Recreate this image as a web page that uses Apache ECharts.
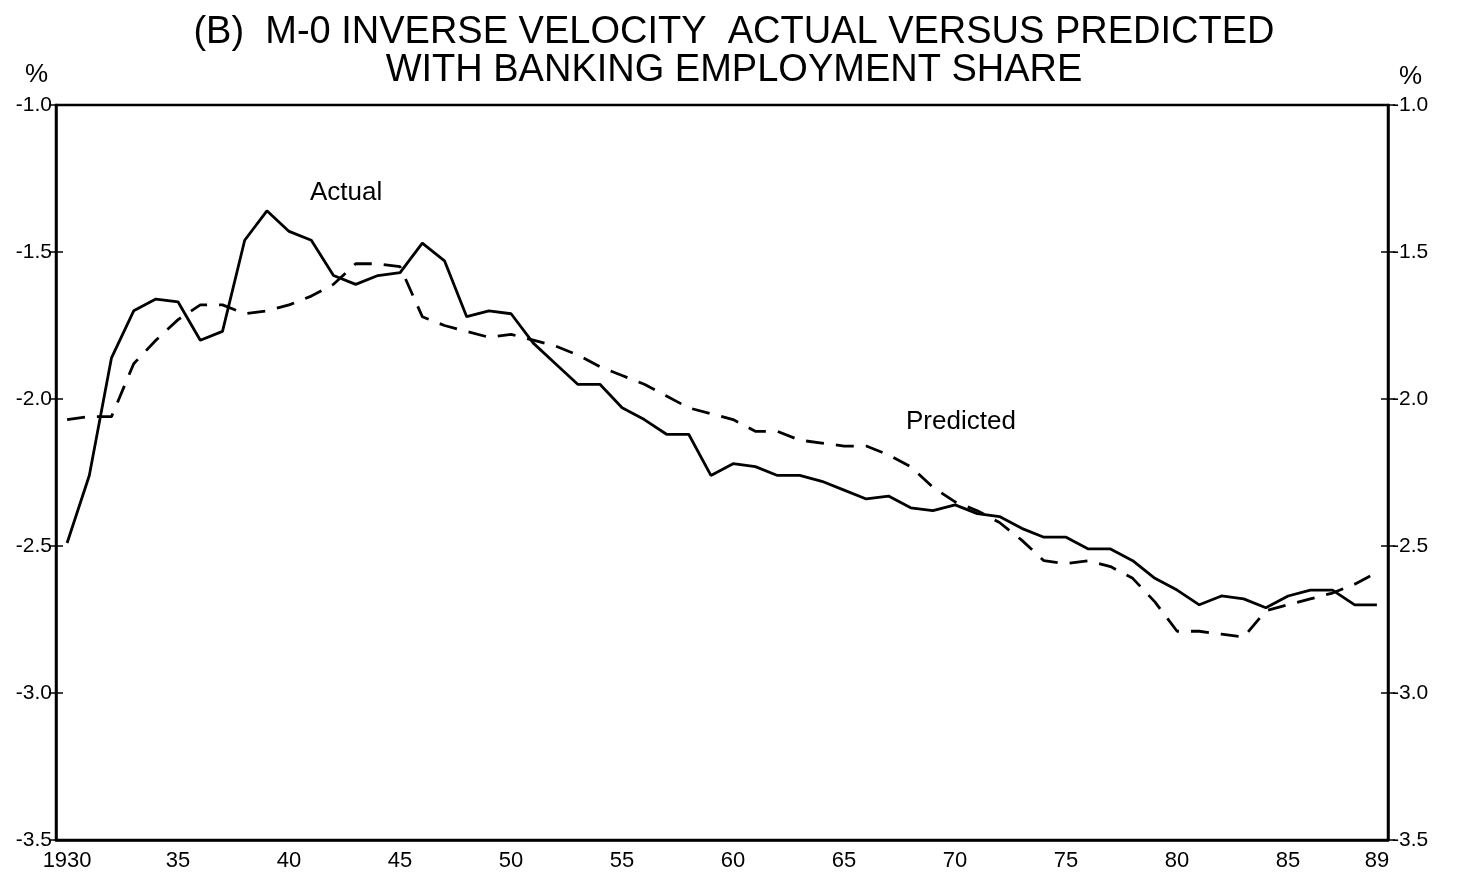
<!DOCTYPE html>
<html>
<head>
<meta charset="utf-8">
<script src="https://cdn.jsdelivr.net/npm/echarts@6/dist/echarts.min.js"></script>
<style>
  html, body { margin: 0; padding: 0; background: #fff; }
  #chart { width: 1461px; height: 878px; }
</style>
</head>
<body>
<div id="chart"></div>
<script>
// years 1930..1989
var years = [];
for (var y = 1930; y <= 1989; y++) years.push(String(y));

// years that carry a label on the x axis
var labelYears = ['1930', '1935', '1940', '1945', '1950', '1955', '1960', '1965', '1970', '1975', '1980', '1985', '1989'];

var actual = [
  -2.49, -2.26, -1.86, -1.70, -1.66, -1.67, -1.80, -1.77, -1.46, -1.36,
  -1.43, -1.46, -1.58, -1.61, -1.58, -1.57, -1.47, -1.53, -1.72, -1.70,
  -1.71, -1.81, -1.88, -1.95, -1.95, -2.03, -2.07, -2.12, -2.12, -2.26,
  -2.22, -2.23, -2.26, -2.26, -2.28, -2.31, -2.34, -2.33, -2.37, -2.38,
  -2.36, -2.39, -2.40, -2.44, -2.47, -2.47, -2.51, -2.51, -2.55, -2.61,
  -2.65, -2.70, -2.67, -2.68, -2.71, -2.67, -2.65, -2.65, -2.70, -2.70
];

var predicted = [
  -2.07, -2.06, -2.06, -1.88, -1.80, -1.73, -1.68, -1.68, -1.71, -1.70,
  -1.68, -1.65, -1.61, -1.54, -1.54, -1.55, -1.72, -1.75, -1.77, -1.79,
  -1.78, -1.80, -1.82, -1.85, -1.89, -1.92, -1.95, -1.99, -2.03, -2.05,
  -2.07, -2.11, -2.11, -2.14, -2.15, -2.16, -2.16, -2.19, -2.23, -2.30,
  -2.35, -2.38, -2.42, -2.48, -2.55, -2.56, -2.55, -2.57, -2.61, -2.69,
  -2.79, -2.79, -2.80, -2.81, -2.72, -2.70, -2.68, -2.66, -2.63, -2.59
];

var yTicks = { min: -3.5, max: -1.0, step: 0.5 };

var font = 'Liberation Sans, Arial, sans-serif';

var chart = echarts.init(document.getElementById('chart'));

function xLabel(v) {
  return v === '1930' ? v : v.slice(2);
}

function yLabel(v) {
  return v.toFixed(1);
}

var option = {
  backgroundColor: '#fff',
  animation: false,
  title: {
    text: '(B)  M-0 INVERSE VELOCITY  ACTUAL VERSUS PREDICTED\nWITH BANKING EMPLOYMENT SHARE',
    left: 729,
    top: 9,
    textAlign: 'center',
    textStyle: {
      fontFamily: font,
      fontSize: 38,
      fontWeight: 'normal',
      color: '#000',
      lineHeight: 38
    }
  },
  grid: {
    left: 56,
    right: 73,
    top: 105,
    bottom: 38,
    show: true,
    borderColor: '#000',
    borderWidth: 2.5
  },
  xAxis: [
    {
      type: 'category',
      data: years,
      boundaryGap: true,
      axisLine: { lineStyle: { color: '#000', width: 2.5 } },
      axisTick: { alignWithLabel: true, interval: 0, length: 6, lineStyle: { color: '#000', width: 1.5 } },
      axisLabel: {
        interval: function (i, v) { return labelYears.indexOf(v) >= 0; },
        formatter: xLabel,
        color: '#000',
        fontFamily: font,
        fontSize: 22,
        margin: 10
      },
      splitLine: { show: false }
    },
    {
      type: 'category',
      data: years,
      position: 'bottom',
      boundaryGap: true,
      axisLine: { show: false },
      axisTick: { alignWithLabel: true, interval: 0, inside: true, length: 6, lineStyle: { color: '#000', width: 1.5 } },
      axisLabel: { show: false },
      splitLine: { show: false }
    }
  ],
  yAxis: [
    {
      type: 'value', position: 'left',
      min: yTicks.min, max: yTicks.max, interval: yTicks.step,
      axisLine: { show: true, lineStyle: { color: '#000', width: 2.5 } },
      axisTick: { show: true, length: 7, lineStyle: { color: '#000', width: 1.5 } },
      axisLabel: { formatter: yLabel, color: '#000', fontFamily: font, fontSize: 21, margin: 4 },
      splitLine: { show: false }
    },
    {
      type: 'value', position: 'right',
      min: yTicks.min, max: yTicks.max, interval: yTicks.step,
      axisLine: { show: true, lineStyle: { color: '#000', width: 2.5 } },
      axisTick: { show: true, length: 7, lineStyle: { color: '#000', width: 1.5 } },
      axisLabel: { formatter: yLabel, color: '#000', fontFamily: font, fontSize: 21, margin: 4 },
      splitLine: { show: false }
    },
    {
      type: 'value', position: 'left',
      min: yTicks.min, max: yTicks.max, interval: yTicks.step,
      axisLine: { show: false },
      axisTick: { show: true, inside: true, length: 7, lineStyle: { color: '#000', width: 1.5 } },
      axisLabel: { show: false },
      splitLine: { show: false }
    },
    {
      type: 'value', position: 'right',
      min: yTicks.min, max: yTicks.max, interval: yTicks.step,
      axisLine: { show: false },
      axisTick: { show: true, inside: true, length: 7, lineStyle: { color: '#000', width: 1.5 } },
      axisLabel: { show: false },
      splitLine: { show: false }
    }
  ],
  graphic: [
    { type: 'text', left: 25, top: 62, style: { text: '%', font: '26px ' + font, fill: '#000' } },
    { type: 'text', left: 1399, top: 64, style: { text: '%', font: '26px ' + font, fill: '#000' } },
    { type: 'text', left: 310, top: 180, style: { text: 'Actual', font: '26px ' + font, fill: '#000' } },
    { type: 'text', left: 906, top: 409, style: { text: 'Predicted', font: '26px ' + font, fill: '#000' } }
  ],
  series: [
    {
      name: 'Actual',
      type: 'line',
      data: actual,
      symbol: 'none',
      lineStyle: { color: '#000', width: 2.8, type: 'solid' }
    },
    {
      name: 'Predicted',
      type: 'line',
      data: predicted,
      symbol: 'none',
      lineStyle: { color: '#000', width: 2.8, type: [18, 12] }
    }
  ]
};

chart.setOption(option);
</script>
</body>
</html>
